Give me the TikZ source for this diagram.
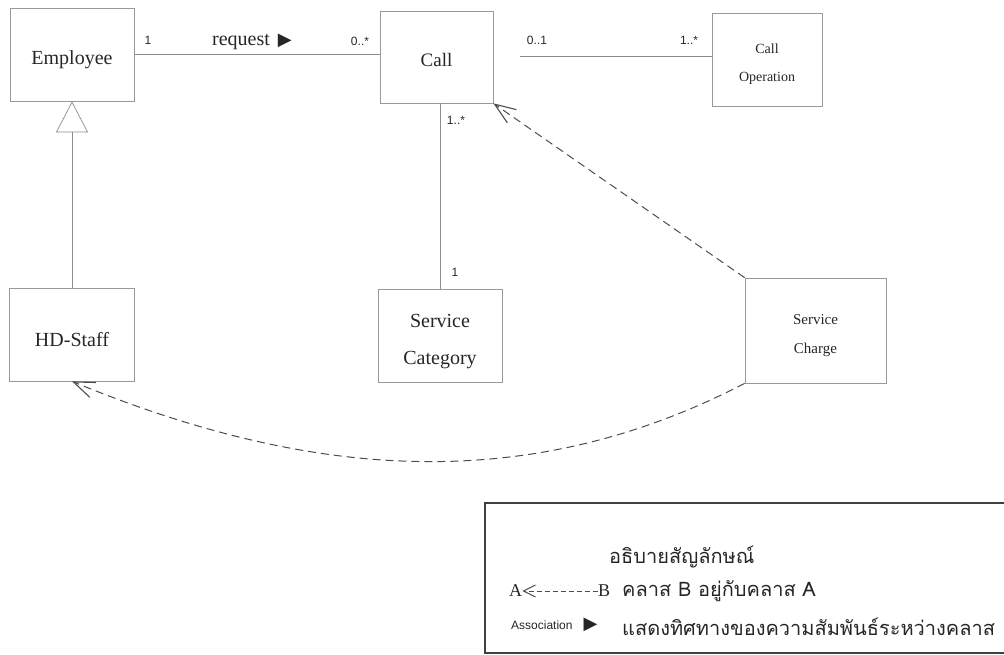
\documentclass[tikz,border=0pt]{standalone}
\usepackage{fontspec}
\setmainfont{Liberation Serif}
\newfontfamily\arialfont{Liberation Sans}
\newfontfamily\thaifont[Script=Thai]{Loma}
\newfontfamily\symbfont{DejaVu Sans}
\usetikzlibrary{arrows.meta,positioning}
% push the first line of a class name down a little
\newcommand{\padtop}[1]{\rule{0pt}{#1}}

\begin{document}
\begin{tikzpicture}
	[x=1pt,y=-1pt,
	 class/.style={draw=black!40,line width=0.7pt,text=black!85,align=center,inner sep=0pt},
	 mult/.style={font=\arialfont\fontsize{12}{14}\selectfont,text=black!85},
	 assoc/.style={draw=black!45,line width=0.7pt},
	 uses/.style={draw=black!70,line width=1pt,dash pattern=on 8pt off 5pt,-{Straight Barb[length=21pt,width=16pt,line width=1.1pt]}},
	 legend/.style={text=black!85,anchor=west,inner sep=0pt},
	 thaitext/.style={legend,font=\thaifont\fontsize{20}{24}\selectfont}]
	\useasboundingbox (0,0) rectangle (1004,655);
	% classes
	\node[class,minimum width=124pt,minimum height=93pt,font=\fontsize{20}{24}\selectfont] (emp) at (72,54.5) {\padtop{24pt}Employee};
	\node[class,minimum width=113pt,minimum height=92pt,font=\fontsize{19}{24}\selectfont] (call) at (436.5,57) {\padtop{20pt}Call};
	\node[class,minimum width=110pt,minimum height=93pt,font=\fontsize{14}{28}\selectfont] (callop) at (767,59.5) {\padtop{19pt}Call\\Operation};
	\node[class,minimum width=125pt,minimum height=93pt,font=\fontsize{20}{24}\selectfont] (hd) at (72,334.5) {\padtop{24pt}HD-Staff};
	\node[class,minimum width=124pt,minimum height=93pt,font=\fontsize{20}{37}\selectfont] (cat) at (440,335.5) {\padtop{26pt}Service\\Category};
	\node[class,minimum width=141pt,minimum height=105pt,font=\fontsize{15}{29}\selectfont] (charge) at (815.5,330.5) {\padtop{21pt}Service\\Charge};
	% associations
	\coordinate (opfree) at (520,56);
	\draw[assoc] (emp.east) -- (emp.east -| call.west);
	\draw[assoc] (opfree) -- (opfree -| callop.west);
	\draw[assoc] (cat.north) -- (cat.north |- call.south);
	\draw[assoc,-{Triangle[open,length=31pt,width=32pt]}] (hd.north) -- (emp.south);
	\node[mult] (m_emp) at (148,40) {1};
	\node[mult] (m_call1) at (360,41) {0..*};
	\node[mult] (m_call2) at (537,40) {0..1};
	\node[mult] (m_op) at (689,40) {1..*};
	\node[mult] (m_call3) at (456,120) {1..*};
	\node[mult] (m_cat) at (455,272) {1};
	\node[legend,font=\fontsize{20}{24}\selectfont] (req) at (212,42) {request\hspace{8pt}{\symbfont\fontsize{18}{20}\selectfont ▶}};
	% dependencies
	\draw[uses] (charge.north west) -- (call.south east);
	\draw[uses] (charge.south west) .. controls (520,500) and (300,475) .. (hd.south);
	% legend
	\draw[draw=black!75,line width=1.2pt] (1010,503) -- (485,503) -- (485,653) -- (1010,653);
	\node[thaitext] (legtitle) at (609,557) {อธิบายสัญลักษณ์};
	\node[legend,font=\fontsize{18}{22}\selectfont] (legA) at (509,591) {A};
	\node[legend,font=\fontsize{18}{22}\selectfont] (legB) at (598,591) {B};
	\draw[uses,line width=0.8pt,dash pattern=on 5pt off 3pt,-{Straight Barb[length=12pt,width=12pt,line width=1pt]}] (legB) -- (legA);
	\node[thaitext] (legdep) at (622,591) {คลาส B อยู่กับคลาส A};
	\node[legend,font=\arialfont\fontsize{12}{14}\selectfont] (legassoc) at (511,625) {Association\hspace{11pt}{\symbfont\fontsize{18}{20}\selectfont ▶}};
	\node[thaitext] (legdir) at (622,627) {แสดงทิศทางของความสัมพันธ์ระหว่างคลาส};
\end{tikzpicture}
\end{document}
